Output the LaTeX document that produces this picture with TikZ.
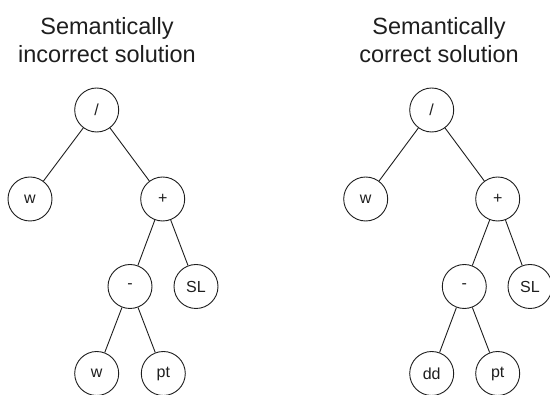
\documentclass[tikz,border=0pt]{standalone}
\usepackage{fontspec}
\setmainfont{Liberation Sans}
\definecolor{ink}{HTML}{1E1E1E}
\begin{document}
\begin{tikzpicture}[x=1pt,y=-1pt,
  tnode/.style={circle,draw=ink,line width=0.9pt,minimum size=44pt,inner sep=0pt,text=ink,font=\fontsize{16}{18}\selectfont},
  title/.style={align=center,text=ink,font=\fontsize{23.5}{28}\selectfont,inner sep=0pt},
  edge/.style={draw=ink,line width=0.9pt}]
\useasboundingbox (0,0) rectangle (550,395);
% titles
\node[title] (t1) at (107,40) {Semantically\\incorrect solution};
\node[title] (t2) at (439,40) {Semantically\\correct solution};
% left tree
\node[tnode] (a1) at (96.7,110) {/};
\node[tnode] (a2) at (30,199) {w};
\node[tnode] (a3) at (162.7,199) {+};
\node[tnode] (a4) at (130,286.5) {-};
\node[tnode] (a5) at (196,286.5) {SL};
\node[tnode] (a6) at (96.7,373.5) {w};
\node[tnode] (a7) at (163.3,373.5) {pt};
\draw[edge] (a1) -- (a2);
\draw[edge] (a1) -- (a3);
\draw[edge] (a3) -- (a4);
\draw[edge] (a3) -- (a5);
\draw[edge] (a4) -- (a6);
\draw[edge] (a4) -- (a7);
% right tree
\node[tnode] (b1) at (431.7,110) {/};
\node[tnode] (b2) at (365.7,199) {w};
\node[tnode] (b3) at (497.7,199) {+};
\node[tnode] (b4) at (464.3,286.5) {-};
\node[tnode] (b5) at (530,286.5) {SL};
\node[tnode] (b6) at (431.7,373.5) {dd};
\node[tnode] (b7) at (497.7,373.5) {pt};
\draw[edge] (b1) -- (b2);
\draw[edge] (b1) -- (b3);
\draw[edge] (b3) -- (b4);
\draw[edge] (b3) -- (b5);
\draw[edge] (b4) -- (b6);
\draw[edge] (b4) -- (b7);
\end{tikzpicture}
\end{document}
